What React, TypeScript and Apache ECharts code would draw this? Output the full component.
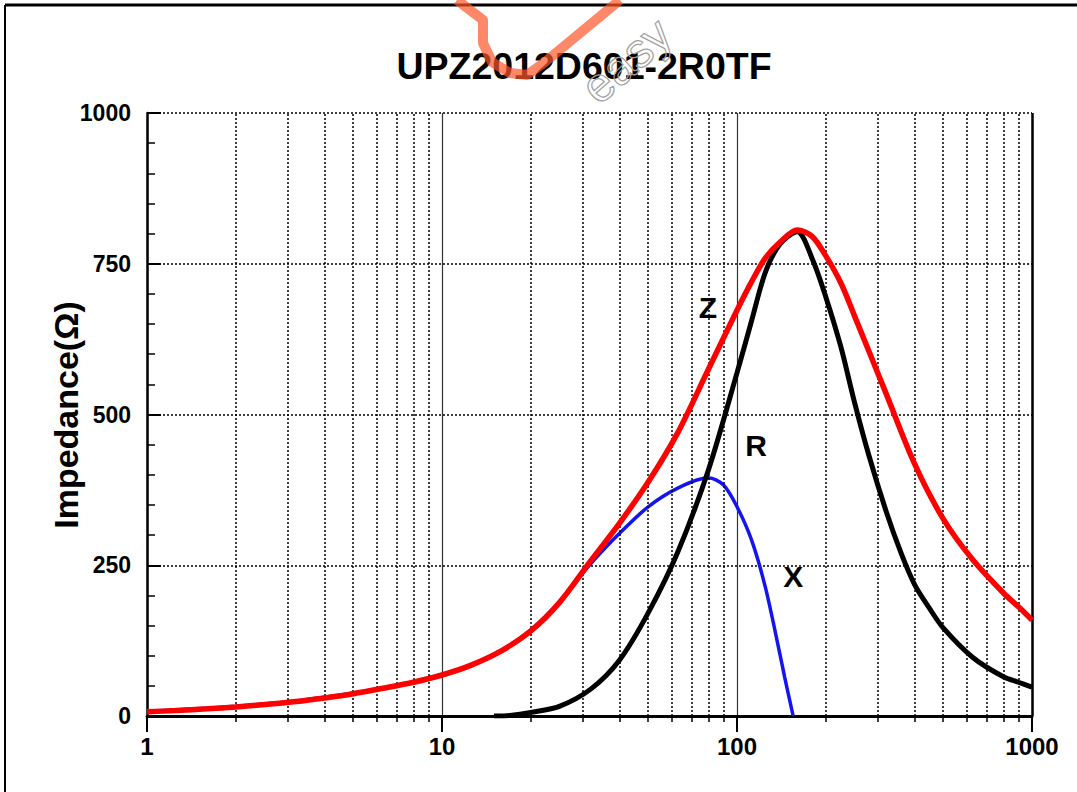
import React, { useEffect, useRef } from "react";
import * as echarts from "echarts";

const TITLE = "UPZ2012D601-2R0TF";
const Y_NAME = "Impedance(Ω)";
const X_MIN = 1;
const X_MAX = 1000;
const Y_TICKS = [0, 250, 500, 750, 1000];

// Z (red)
const Z_FREQ = [1, 1.25, 1.6, 2, 2.5, 3.2, 4, 5, 6.3, 8, 10, 12.5, 16, 20, 25, 32, 40, 50, 63, 80, 100, 112, 125, 140, 160, 180, 200, 225, 250, 320, 400, 500, 630, 800, 900, 1000];
const Z_VALS = [7, 9, 12, 15, 19, 24, 30, 37, 46, 56, 68, 84, 109, 141, 188, 258, 320, 388, 470, 575, 673, 720, 760, 786, 806, 795, 763, 718, 664, 535, 418, 327, 259, 204, 181, 159];

// R (black)
const R_FREQ = [15, 17, 20, 25, 32, 40, 50, 63, 80, 100, 112, 125, 140, 160, 180, 200, 225, 250, 280, 320, 360, 400, 450, 500, 630, 800, 900, 1000];
const R_VALS = [0, 1, 6, 16, 45, 93, 171, 272, 408, 569, 655, 737, 783, 803, 758, 695, 612, 521, 432, 340, 270, 218, 178, 146, 97, 65, 56, 48];

// X (blue)
const X_FREQ = [1, 1.25, 1.6, 2, 2.5, 3.2, 4, 5, 6.3, 8, 10, 12.5, 16, 20, 25, 32, 40, 50, 63, 80, 90, 100, 112, 125, 140, 145, 155];
const X_VALS = [8, 10, 13, 16, 20, 25, 31, 38, 47, 57, 69, 85, 110, 142, 189, 253, 303, 347, 378, 395, 383, 347, 292, 212, 101, 65, 0];

// curve labels
const LABEL_TEXT = ["Z", "R", "X"];
const LABEL_FREQ = [79.7, 116, 155];
const LABEL_VALS = [677, 448, 231];

// minor decade values
const MINOR_X = [2, 3, 4, 5, 6, 7, 8, 9, 20, 30, 40, 50, 60, 70, 80, 90, 200, 300, 400, 500, 600, 700, 800, 900];

const FONT = "'Liberation Sans', Arial, Helvetica, sans-serif";

function pairs(f: number[], v: number[]) {
  return f.map((x, i) => [x, v[i]]);
}

export default function App() {
  const ref = useRef<HTMLDivElement>(null);
  useEffect(() => {
    document.body.style.margin = "0";
    if (!ref.current) return;
    const chart = echarts.init(ref.current, undefined, { renderer: "svg" });
    const dotted = { type: [2, 2] as any, color: "#000", width: 1.5 };
    chart.setOption({
      animation: false,
      backgroundColor: "#fff",
      grid: { left: 147, right: 45, top: 113, bottom: 76 },
      xAxis: [
        {
          type: "log",
          min: X_MIN,
          max: X_MAX,
          logBase: 10,
          position: "bottom",
          axisLine: { show: true, onZero: false, lineStyle: { color: "#000", width: 3 } },
          axisTick: { show: true, length: 16, lineStyle: { color: "#000", width: 2 } },
          axisLabel: {
            color: "#000",
            fontFamily: FONT,
            fontWeight: "bold",
            fontSize: 24,
            margin: 18,
            formatter: (v: number) => String(Math.round(v)),
          },
          splitLine: { show: true, lineStyle: { color: "#333", width: 1.2, type: "solid" } },
          minorTick: { show: false },
        },
        {
          type: "log",
          min: X_MIN,
          max: X_MAX,
          logBase: 10,
          position: "bottom",
          axisLine: { show: false },
          axisTick: { show: true, length: 6, customValues: MINOR_X, lineStyle: { color: "#000", width: 1.5 } },
          axisLabel: { show: false },
          splitLine: { show: false },
        },
      ],
      yAxis: {
        type: "value",
        min: Y_TICKS[0],
        max: Y_TICKS[Y_TICKS.length - 1],
        interval: 250,
        axisLine: { show: true, lineStyle: { color: "#000", width: 2.5 } },
        axisTick: { show: true, inside: true, length: 14, lineStyle: { color: "#000", width: 2 } },
        minorTick: { show: true, splitNumber: 5, length: 8, lineStyle: { color: "#000", width: 1.5 } },
        axisLabel: {
          color: "#000",
          fontFamily: FONT,
          fontWeight: "bold",
          fontSize: 23,
          margin: 16,
          formatter: (v: number) => String(v),
        },
        splitLine: { show: true, lineStyle: dotted },
      },
      series: [
        {
          type: "line",
          name: "grid",
          data: [],
          z: 1,
          silent: true,
          markLine: {
            silent: true,
            symbol: "none",
            label: { show: false },
            lineStyle: dotted,
            data: MINOR_X.map((v) => ({ xAxis: v })),
          },
        },
        {
          type: "line",
          name: "border",
          data: [],
          z: 1,
          silent: true,
          markLine: {
            silent: true,
            symbol: "none",
            label: { show: false },
            lineStyle: { color: "#000", width: 2.5, type: "solid" },
            data: [{ xAxis: X_MAX }],
          },
        },
        {
          type: "line",
          name: "X",
          data: pairs(X_FREQ, X_VALS),
          smooth: 0.3,
          showSymbol: false,
          lineStyle: { color: "#1414f0", width: 3.5 },
          z: 3,
        },
        {
          type: "line",
          name: "R",
          data: pairs(R_FREQ, R_VALS),
          smooth: 0.3,
          showSymbol: false,
          lineStyle: { color: "#000", width: 5 },
          z: 4,
        },
        {
          type: "line",
          name: "Z",
          data: pairs(Z_FREQ, Z_VALS),
          smooth: 0.3,
          showSymbol: false,
          lineStyle: { color: "#ff0000", width: 5.5 },
          z: 5,
        },
        {
          type: "scatter",
          name: "labels",
          symbolSize: 0,
          z: 6,
          itemStyle: { opacity: 1 },
          data: LABEL_TEXT.map((t, i) => [LABEL_FREQ[i], LABEL_VALS[i], t]),
          label: {
            show: true,
            position: "inside",
            formatter: (p: any) => p.value[2],
            color: "#000",
            opacity: 1,
            textBorderWidth: 0,
            fontFamily: FONT,
            fontWeight: "bold",
            fontSize: 30,
          },
        },
      ],
      graphic: [
        {
          type: "line",
          shape: { x1: 5, y1: 5, x2: 1077, y2: 5 },
          style: { stroke: "#000", lineWidth: 3 },
        },
        {
          type: "line",
          shape: { x1: 5, y1: 5, x2: 5, y2: 792 },
          style: { stroke: "#000", lineWidth: 2 },
        },
        {
          type: "text",
          x: 584,
          y: 66,
          style: {
            text: TITLE,
            fill: "#000",
            font: `bold 37.5px ${FONT}`,
            textAlign: "center",
            textVerticalAlign: "middle",
          },
        },
        {
          type: "text",
          x: 66,
          y: 415,
          rotation: Math.PI / 2,
          style: {
            text: Y_NAME,
            fill: "#000",
            font: `bold 34px ${FONT}`,
            textAlign: "center",
            textVerticalAlign: "middle",
          },
        },
        {
          type: "polyline",
          shape: {
            points: [
              [457, 0],
              [483, 20],
              [483, 43],
              [492, 62],
              [510, 73],
              [527, 75],
              [545, 62],
              [620, 0],
            ],
          },
          style: { stroke: "rgba(255,85,40,0.7)", lineWidth: 10, fill: "none", lineJoin: "round" },
        },
        {
          type: "text",
          x: 604,
          y: 112,
          rotation: 0.72,
          style: {
            text: "easy",
            fill: "rgba(255,255,255,0)",
            stroke: "#a0a0a0",
            lineWidth: 1.2,
            font: `48px ${FONT}`,
            textAlign: "left",
            textVerticalAlign: "bottom",
          },
        },
      ],
    });
    return () => chart.dispose();
  }, []);
  return <div ref={ref} style={{ width: 1077, height: 792 }} />;
}
